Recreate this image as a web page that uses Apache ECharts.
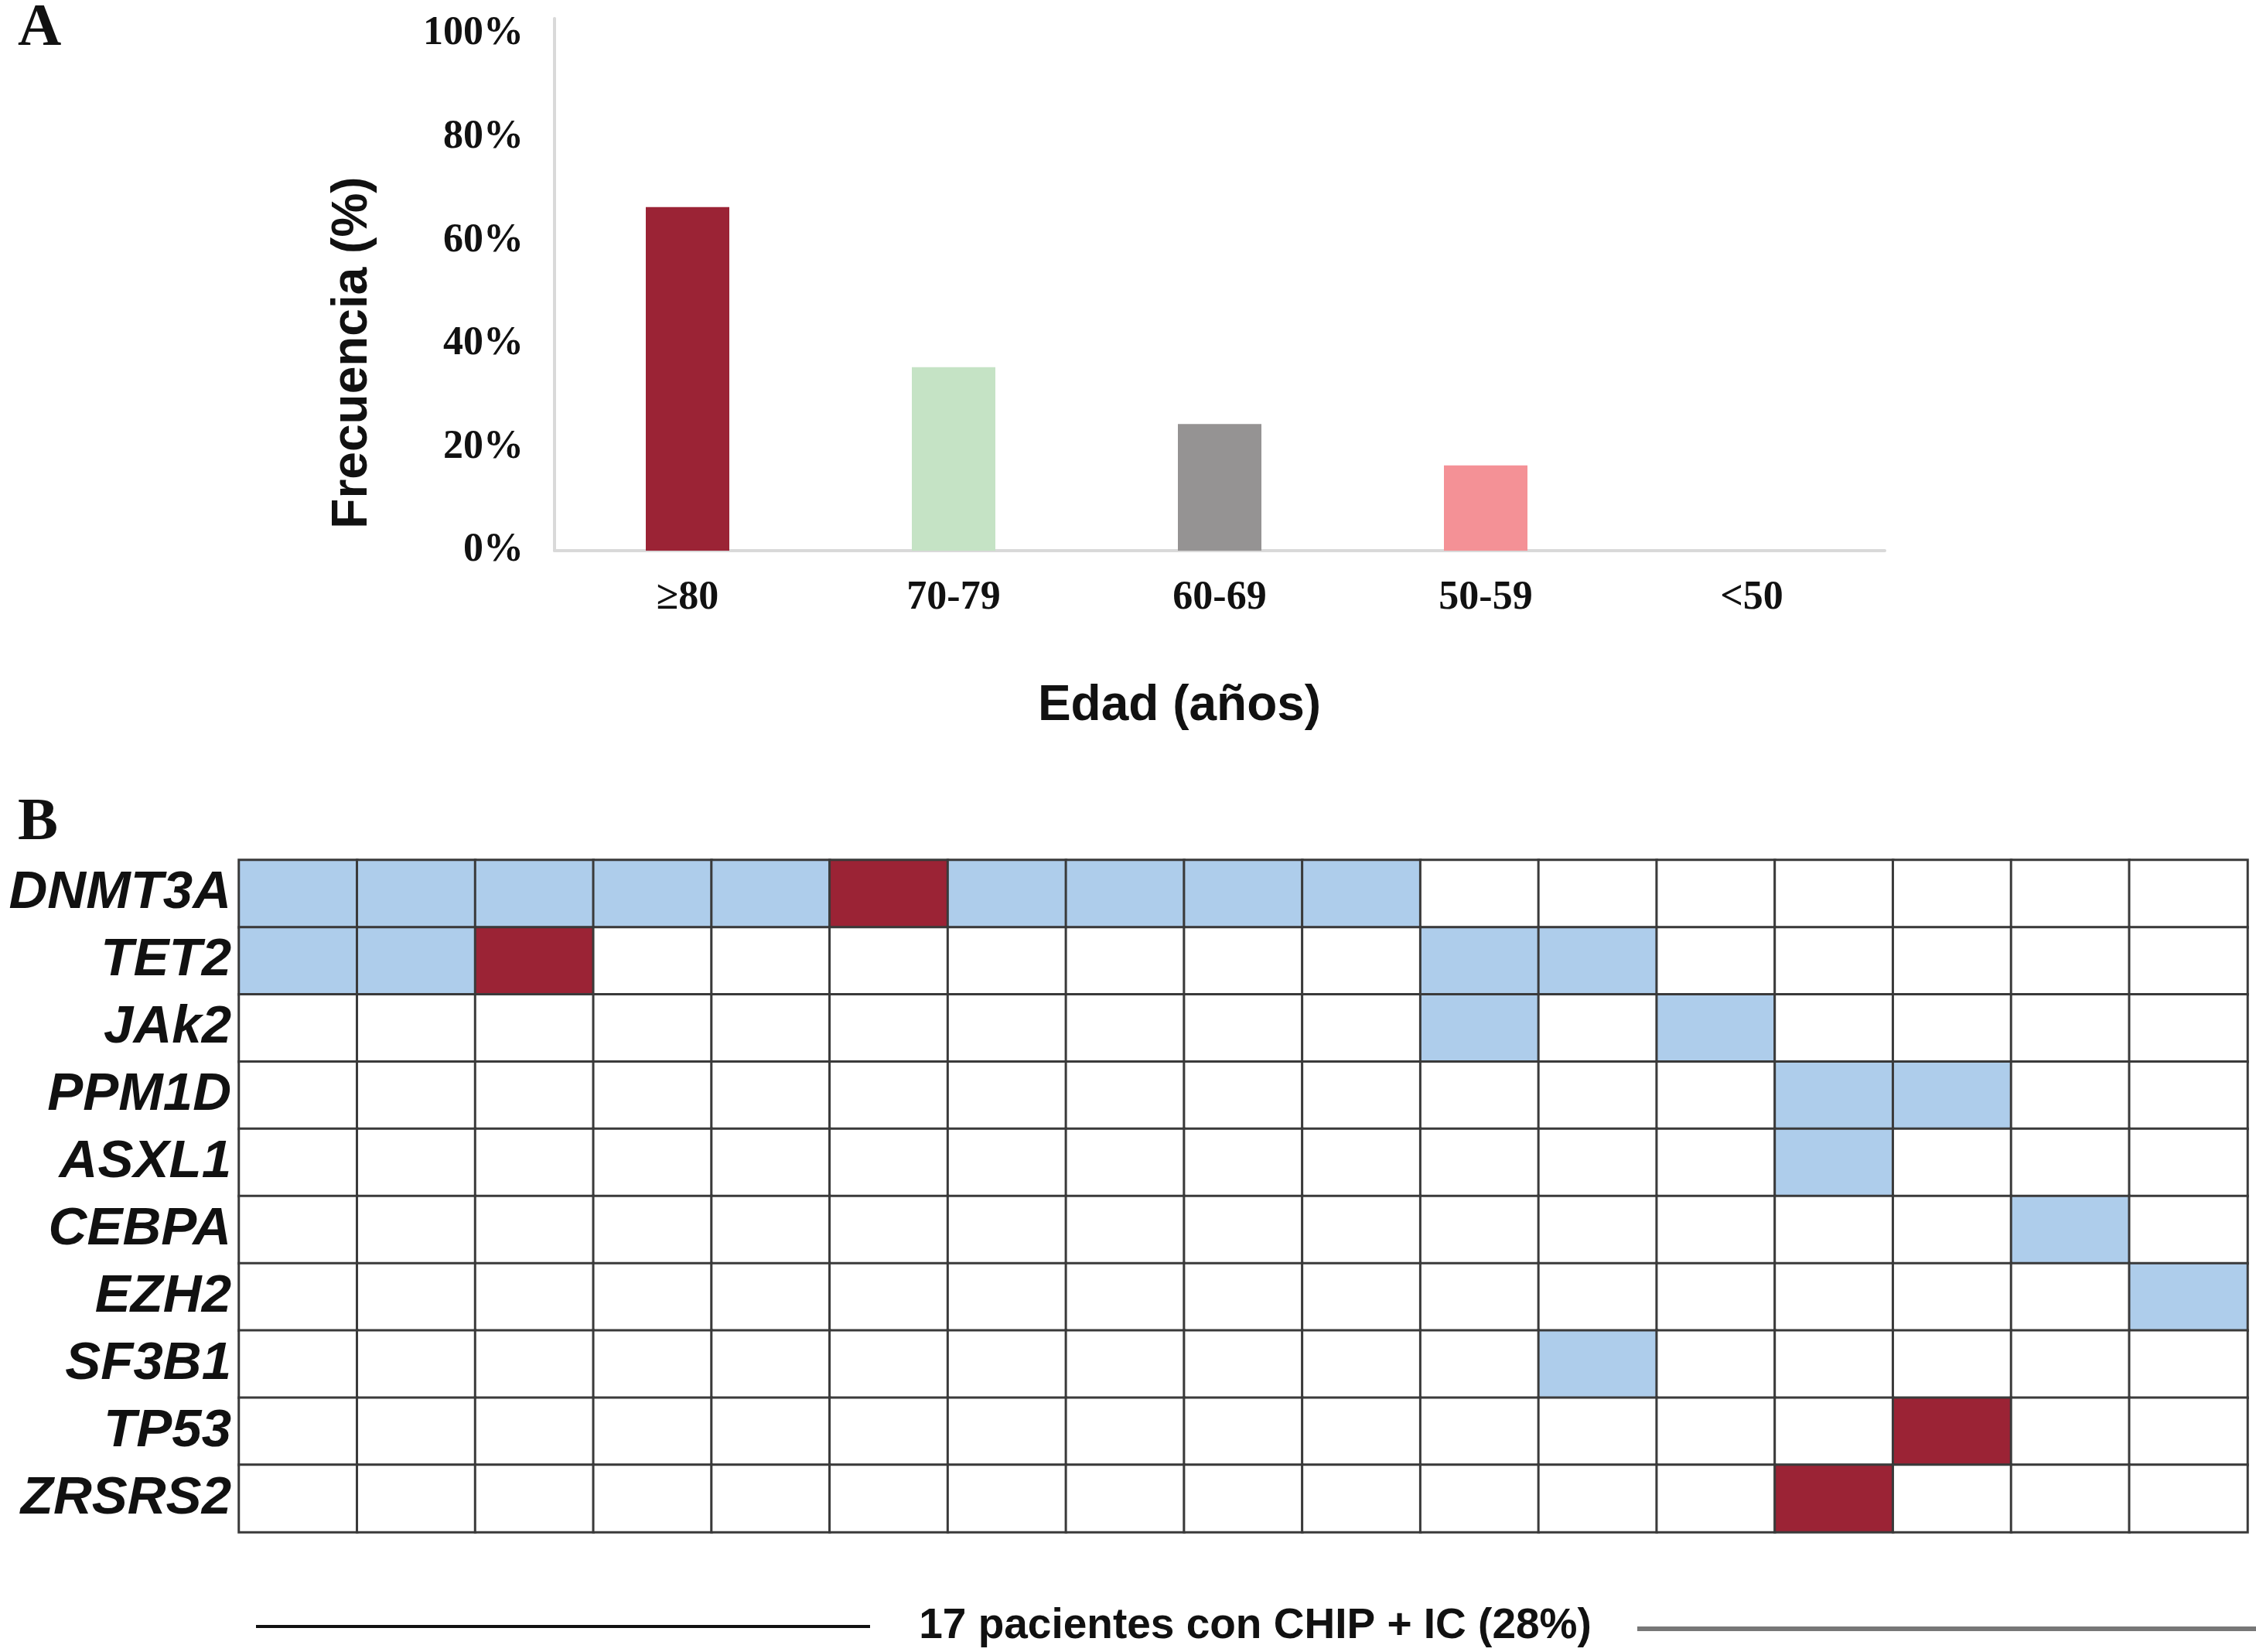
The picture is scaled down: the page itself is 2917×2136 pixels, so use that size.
<!DOCTYPE html>
<html>
<head>
<meta charset="utf-8">
<script src="https://cdn.jsdelivr.net/npm/echarts@6/dist/echarts.min.js"></script>
<style>html,body{margin:0;padding:0;background:#fff;}#c{width:2917px;height:2136px;}</style>
</head>
<body>
<div id="c"></div>
<script>
// Panel A data
const ageCategories = ['≥80', '70-79', '60-69', '50-59', '<50'];
const frequencies = [66.5, 35.5, 24.5, 16.5, 0];
const barColors = ['#9B2335', '#C5E3C5', '#959393', '#F49196', '#cccccc'];
const yTicks = [0, 20, 40, 60, 80, 100];
const yAxisTitle = 'Frecuencia (%)';
const xAxisTitle = 'Edad (años)';

// Panel B data
const genes = ['DNMT3A', 'TET2', 'JAk2', 'PPM1D', 'ASXL1', 'CEBPA', 'EZH2', 'SF3B1', 'TP53', 'ZRSRS2'];
const patients = ['1','2','3','4','5','6','7','8','9','10','11','12','13','14','15','16','17'];
// 0 = none, 1 = mutation (blue), 2 = mutation (red)
const rowDNMT3A = [1,1,1,1,1,2,1,1,1,1,0,0,0,0,0,0,0];
const rowTET2   = [1,1,2,0,0,0,0,0,0,0,1,1,0,0,0,0,0];
const rowJAk2   = [0,0,0,0,0,0,0,0,0,0,1,0,1,0,0,0,0];
const rowPPM1D  = [0,0,0,0,0,0,0,0,0,0,0,0,0,1,1,0,0];
const rowASXL1  = [0,0,0,0,0,0,0,0,0,0,0,0,0,1,0,0,0];
const rowCEBPA  = [0,0,0,0,0,0,0,0,0,0,0,0,0,0,0,1,0];
const rowEZH2   = [0,0,0,0,0,0,0,0,0,0,0,0,0,0,0,0,1];
const rowSF3B1  = [0,0,0,0,0,0,0,0,0,0,0,1,0,0,0,0,0];
const rowTP53   = [0,0,0,0,0,0,0,0,0,0,0,0,0,0,2,0,0];
const rowZRSRS2 = [0,0,0,0,0,0,0,0,0,0,0,0,0,2,0,0,0];
const mutationRows = [rowDNMT3A, rowTET2, rowJAk2, rowPPM1D, rowASXL1, rowCEBPA, rowEZH2, rowSF3B1, rowTP53, rowZRSRS2];
const footerText = '17 pacientes con CHIP + IC (28%)';

const heatData = [];
mutationRows.forEach((row, gi) => row.forEach((v, pi) => heatData.push([pi, gi, v])));

const serif = "'Liberation Serif', 'Times New Roman', serif";
const sans = "'Liberation Sans', Arial, sans-serif";

const chart = echarts.init(document.getElementById('c'), null, {renderer: 'canvas'});
chart.setOption({
  backgroundColor: '#fff',
  animation: false,
  title: [
    {text: 'A', left: 18, top: -6, textStyle: {fontFamily: serif, fontWeight: 'bold', fontSize: 78, color: '#111'}},
    {text: 'B', left: 18, top: 1021, textStyle: {fontFamily: serif, fontWeight: 'bold', fontSize: 78, color: '#111'}},
    {text: footerText, left: 1618, top: 2070, textAlign: 'center', textStyle: {fontFamily: sans, fontWeight: 'bold', fontSize: 55, color: '#111'}}
  ],
  graphic: [
    {type: 'line', shape: {x1: 331, y1: 2103, x2: 1125, y2: 2103}, style: {stroke: '#111', lineWidth: 4}},
    {type: 'line', shape: {x1: 2117, y1: 2106, x2: 2917, y2: 2106}, style: {stroke: '#777', lineWidth: 6}},
    {type: 'text', x: 456, y: 456, rotation: Math.PI / 2,
      style: {text: yAxisTitle, fontFamily: sans, fontWeight: 'bold', fontSize: 64, fill: '#111', align: 'center', verticalAlign: 'middle'}},
    {type: 'text', x: 1525, y: 913,
      style: {text: xAxisTitle, fontFamily: sans, fontWeight: 'bold', fontSize: 64, fill: '#111', align: 'center', verticalAlign: 'middle'}}
  ],
  grid: [
    {left: 717, right: 480, top: 24, bottom: 2136 - 712},
    {left: 309, right: 11, top: 1112, bottom: 2136 - 1981}
  ],
  xAxis: [
    {
      type: 'category', gridIndex: 0, data: ageCategories,
      axisLine: {show: true, lineStyle: {color: '#d9d9d9', width: 4}},
      axisTick: {show: false},
      axisLabel: {fontFamily: serif, fontWeight: 'bold', fontSize: 52, color: '#111', margin: 36}
    },
    {
      type: 'category', gridIndex: 1, data: patients,
      axisLine: {show: false}, axisTick: {show: false}, axisLabel: {show: false}, splitLine: {show: false}
    }
  ],
  yAxis: [
    {
      type: 'value', gridIndex: 0, min: 0, max: 103, interval: 20,
      axisLine: {show: true, lineStyle: {color: '#d9d9d9', width: 4}},
      axisTick: {show: false},
      splitLine: {show: false},
      axisLabel: {
        fontFamily: serif, fontWeight: 'bold', fontSize: 52, color: '#111', margin: 40,
        formatter: v => (yTicks.indexOf(v) >= 0 ? v + '%' : '')
      }
    },
    {
      type: 'category', gridIndex: 1, data: genes, inverse: true,
      axisLine: {show: false}, axisTick: {show: false}, splitLine: {show: false},
      axisLabel: {interval: 0, fontFamily: sans, fontWeight: 'bold', fontStyle: 'italic', fontSize: 69, color: '#111', margin: 10}
    }
  ],
  visualMap: {
    type: 'piecewise', show: false, seriesIndex: 1, dimension: 2,
    pieces: [
      {value: 0, color: '#ffffff'},
      {value: 1, color: '#AECDEB'},
      {value: 2, color: '#9B2335'}
    ]
  },
  series: [
    {
      type: 'bar', xAxisIndex: 0, yAxisIndex: 0, barWidth: 108,
      data: frequencies.map((v, i) => ({value: v, itemStyle: {color: barColors[i]}}))
    },
    {
      type: 'heatmap', xAxisIndex: 1, yAxisIndex: 1, data: heatData,
      itemStyle: {borderColor: '#3a3a3a', borderWidth: 3}
    }
  ]
});
</script>
</body>
</html>
